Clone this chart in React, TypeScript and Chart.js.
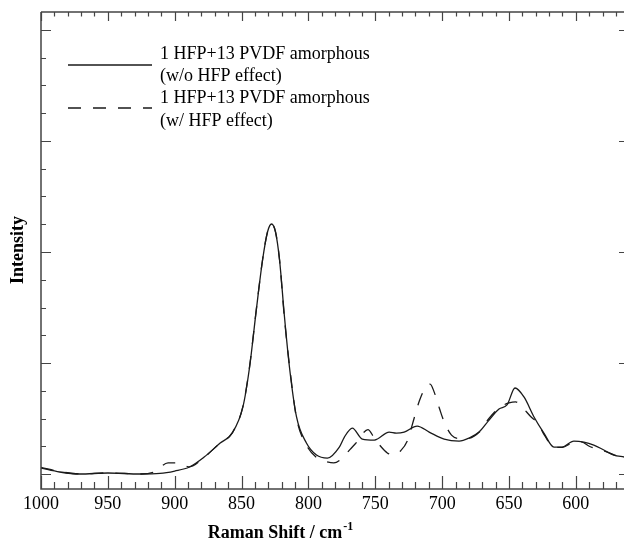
import React, { useEffect, useRef } from "react";
import { Chart, registerables } from "chart.js";

Chart.register(...registerables);

// Raman shift (cm-1) and intensity (arbitrary units)
const solidShift = [1000, 986, 971, 950, 926, 911, 900, 889, 878, 866, 857, 849, 844, 839, 834.3, 830.6, 827.6, 824.6, 821.6, 817.9, 814.2, 808.9, 801.5, 794, 785.8, 776.9, 773.1, 767.2, 759.7, 750.7, 739.6, 734.3, 728.4, 718.7, 709.7, 698.5, 687.3, 679.9, 672.4, 664.9, 657.5, 651.5, 645.5, 638.8, 631.3, 623.9, 616.4, 610.4, 601.5, 594, 586.6, 579.1, 571.6, 564];
const solidIntensity = [0.054, 0.018, 0.0, 0.009, 0.0, 0.005, 0.027, 0.063, 0.153, 0.279, 0.369, 0.604, 0.964, 1.477, 1.928, 2.18, 2.252, 2.18, 1.928, 1.414, 0.964, 0.514, 0.279, 0.171, 0.144, 0.243, 0.333, 0.414, 0.315, 0.306, 0.378, 0.369, 0.378, 0.432, 0.378, 0.315, 0.297, 0.324, 0.378, 0.486, 0.586, 0.622, 0.775, 0.694, 0.514, 0.369, 0.243, 0.243, 0.297, 0.288, 0.261, 0.216, 0.171, 0.153];

const dashedShift = [1000, 985, 970, 950, 925, 915, 905, 898, 889, 878, 866, 857, 849, 844, 839, 834.3, 830.6, 827.6, 824.6, 821.6, 818, 814, 809, 801.5, 794, 786, 781, 775, 769, 763, 759, 755.5, 751, 746, 741, 736.5, 731, 726, 721, 717, 712, 709, 706, 702, 698.5, 693, 687, 681, 672, 665, 657, 650, 645, 640, 634, 628, 624, 616, 610, 603, 596, 590, 583, 577, 571, 564];
const dashedIntensity = [0.06, 0.02, 0.0, 0.01, 0.0, 0.02, 0.1, 0.1, 0.065, 0.15, 0.28, 0.37, 0.61, 0.97, 1.48, 1.93, 2.18, 2.25, 2.18, 1.93, 1.41, 0.96, 0.51, 0.26, 0.15, 0.11, 0.1, 0.14, 0.22, 0.3, 0.37, 0.4, 0.33, 0.25, 0.19, 0.17, 0.21, 0.3, 0.5, 0.66, 0.79, 0.81, 0.74, 0.59, 0.47, 0.35, 0.32, 0.32, 0.38, 0.5, 0.6, 0.64, 0.65, 0.6, 0.52, 0.45, 0.36, 0.24, 0.24, 0.28, 0.29, 0.25, 0.22, 0.2, 0.17, 0.15];

const seriesNames = ["1 HFP+13 PVDF amorphous", "1 HFP+13 PVDF amorphous"];
const seriesNotes = ["(w/o HFP effect)", "(w/ HFP effect)"];

const xTickLabels = ["1000", "950", "900", "850", "800", "750", "700", "650", "600"];
const xTickValues = [1000, 950, 900, 850, 800, 750, 700, 650, 600];
const xMinorValues = [990, 980, 970, 960, 940, 930, 920, 910, 890, 880, 870, 860, 840, 830, 820, 810, 790, 780, 770, 760, 740, 730, 720, 710, 690, 680, 670, 660, 640, 630, 620, 610, 590, 580, 570];
const yMajorValues = [0, 1, 2, 3, 4];
const yMinorValues = [0.25, 0.5, 0.75, 1.25, 1.5, 1.75, 2.25, 2.5, 2.75, 3.25, 3.5, 3.75];

const xTitle = "Raman Shift / cm";
const xTitleSup = "-1";
const yTitle = "Intensity";

const SERIF = '"Liberation Serif", "Times New Roman", serif';
const INK = "#1a1a1a";

const framePlugin = {
  id: "frameAndLabels",
  afterDraw(chart: any) {
    const { ctx, chartArea: ca, scales } = chart;
    const xs = scales.x;
    const ys = scales.y;
    ctx.save();
    ctx.strokeStyle = "#444";
    ctx.lineWidth = 1.5;
    ctx.beginPath();
    ctx.moveTo(ca.left, ca.top);
    ctx.lineTo(ca.left, ca.bottom);
    ctx.lineTo(ca.right + 1, ca.bottom);
    ctx.moveTo(ca.left, ca.top);
    ctx.lineTo(ca.right + 1, ca.top);
    ctx.stroke();

    ctx.lineWidth = 1.2;
    ctx.beginPath();
    xTickValues.forEach((v) => {
      const px = Math.round(xs.getPixelForValue(v)) + 0.5;
      ctx.moveTo(px, ca.bottom);
      ctx.lineTo(px, ca.bottom - 13);
      ctx.moveTo(px, ca.top);
      ctx.lineTo(px, ca.top + 9);
    });
    xMinorValues.forEach((v) => {
      const px = Math.round(xs.getPixelForValue(v)) + 0.5;
      ctx.moveTo(px, ca.bottom);
      ctx.lineTo(px, ca.bottom - 7);
      ctx.moveTo(px, ca.top);
      ctx.lineTo(px, ca.top + 4.5);
    });
    yMajorValues.forEach((v) => {
      const py = Math.round(ys.getPixelForValue(v)) + 0.5;
      ctx.moveTo(ca.left, py);
      ctx.lineTo(ca.left + 10, py);
      ctx.moveTo(ca.right, py);
      ctx.lineTo(ca.right - 5, py);
    });
    yMinorValues.forEach((v) => {
      const py = Math.round(ys.getPixelForValue(v)) + 0.5;
      ctx.moveTo(ca.left, py);
      ctx.lineTo(ca.left + 5, py);
    });
    ctx.stroke();

    ctx.fillStyle = "#000";
    ctx.font = `18px ${SERIF}`;
    ctx.textAlign = "center";
    ctx.textBaseline = "middle";
    xTickValues.forEach((v, i) => {
      ctx.fillText(xTickLabels[i], xs.getPixelForValue(v), ca.bottom + 15);
    });

    // x title with superscript
    ctx.font = `bold 18px ${SERIF}`;
    ctx.textAlign = "left";
    ctx.textBaseline = "alphabetic";
    const mainW = ctx.measureText(xTitle).width;
    ctx.font = `bold 12px ${SERIF}`;
    const supW = ctx.measureText(xTitleSup).width;
    const startX = 280 - (mainW + supW) / 2;
    ctx.font = `bold 18px ${SERIF}`;
    ctx.fillText(xTitle, startX, 538);
    ctx.font = `bold 12px ${SERIF}`;
    ctx.fillText(xTitleSup, startX + mainW + 1, 530);

    // y title
    ctx.save();
    ctx.translate(18, 250);
    ctx.rotate(-Math.PI / 2);
    ctx.font = `bold 18px ${SERIF}`;
    ctx.textAlign = "center";
    ctx.textBaseline = "middle";
    ctx.fillText(yTitle, 0, 0);
    ctx.restore();

    // legend
    const rows = [
      { lineY: 65, t1: 54, t2: 76 },
      { lineY: 108, t1: 98, t2: 121 },
    ];
    chart.data.datasets.forEach((ds: any, i: number) => {
      const r = rows[i];
      ctx.strokeStyle = ds.borderColor;
      ctx.lineWidth = ds.borderWidth;
      ctx.setLineDash(ds.borderDash || []);
      ctx.beginPath();
      ctx.moveTo(68, r.lineY);
      ctx.lineTo(152, r.lineY);
      ctx.stroke();
      ctx.setLineDash([]);
      ctx.font = `18px ${SERIF}`;
      ctx.textAlign = "left";
      ctx.textBaseline = "middle";
      ctx.fillStyle = "#000";
      ctx.fillText(seriesNames[i], 160, r.t1);
      ctx.fillText(seriesNotes[i], 160, r.t2);
    });
    ctx.restore();
  },
};

export default function App() {
  const ref = useRef<HTMLCanvasElement | null>(null);
  useEffect(() => {
    if (!ref.current) return;
    const chart = new Chart(ref.current, {
      type: "line",
      data: {
        datasets: [
          {
            label: seriesNames[0] + " " + seriesNotes[0],
            data: solidShift.map((x, i) => ({ x, y: solidIntensity[i] })),
            borderColor: INK,
            borderWidth: 1.3,
            pointRadius: 0,
            fill: false,
            cubicInterpolationMode: "monotone",
          },
          {
            label: seriesNames[1] + " " + seriesNotes[1],
            data: dashedShift.map((x, i) => ({ x, y: dashedIntensity[i] })),
            borderColor: INK,
            borderWidth: 1.3,
            borderDash: [13, 12],
            pointRadius: 0,
            fill: false,
            cubicInterpolationMode: "monotone",
          },
        ],
      },
      options: {
        animation: false,
        responsive: false,
        layout: { padding: { left: 41, top: 12, right: 0, bottom: 55 } },
        plugins: { legend: { display: false }, tooltip: { enabled: false } },
        scales: {
          x: { type: "linear", min: 564, max: 1000, reverse: true, display: false },
          y: { type: "linear", min: -0.135, max: 4.162, display: false },
        },
      },
      plugins: [framePlugin],
    });
    return () => chart.destroy();
  }, []);
  return (
    <div style={{ position: "fixed", left: 0, top: 0, width: 624, height: 544, background: "#fff" }}>
      <canvas ref={ref} width={624} height={544} />
    </div>
  );
}
